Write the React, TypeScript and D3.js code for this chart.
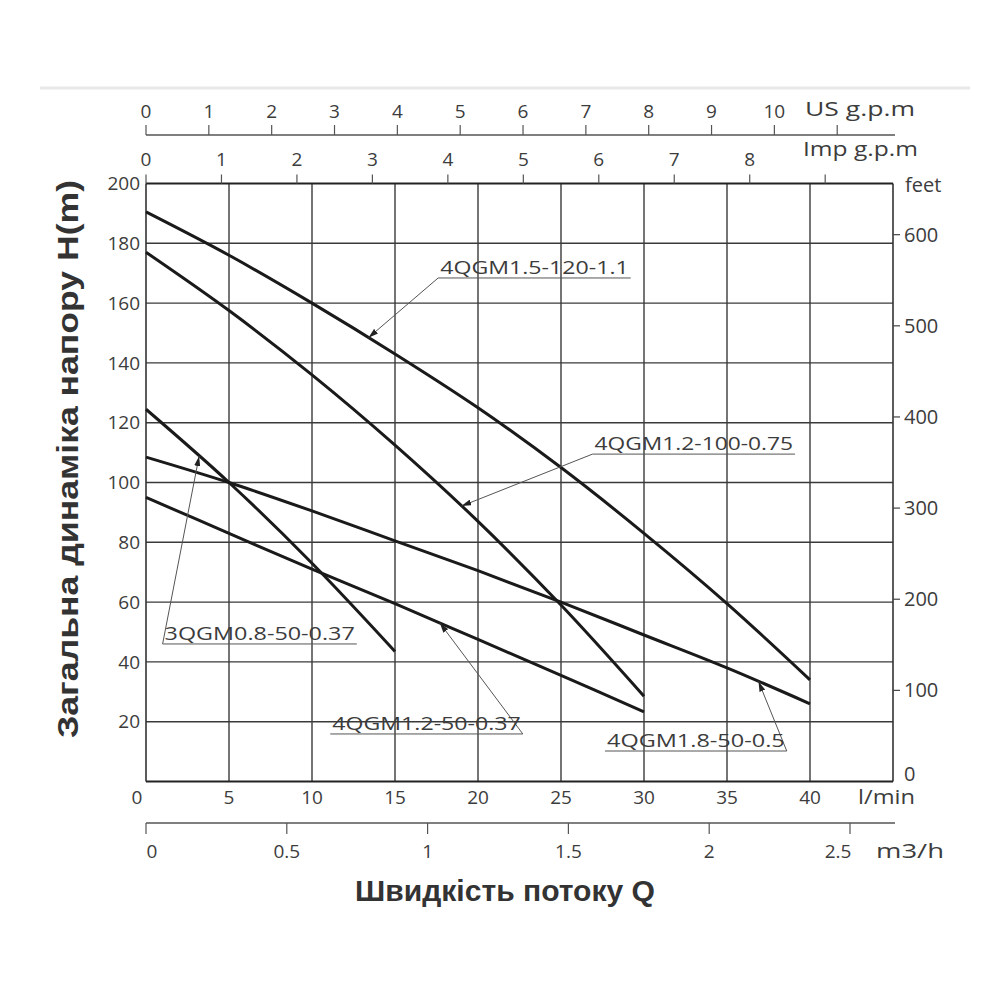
import React from 'react';
import * as d3 from 'd3';

// flow points (l/min) and heads (m)
const q40 = [0, 5, 10, 15, 20, 25, 30, 35, 40];
const q30 = [0, 5, 10, 15, 20, 25, 30];
const q15 = [0, 5, 10, 15];

const head_4QGM15_120 = [190.5, 176, 160, 143, 125, 105, 83, 59.5, 34];
const head_4QGM18_50 = [108.5, 100, 90.5, 80.5, 70.5, 60, 49, 38, 26];
const head_4QGM12_100 = [177, 157.5, 136, 112.5, 87, 59, 28.5];
const head_4QGM12_50 = [95, 83, 71, 59.5, 47.5, 35.5, 23.3];
const head_3QGM08_50 = [124.5, 100, 73, 43.5];

const series = [
  { name: '4QGM1.5-120-1.1', q: q40, h: head_4QGM15_120 },
  { name: '4QGM1.8-50-0.5', q: q40, h: head_4QGM18_50 },
  { name: '4QGM1.2-100-0.75', q: q30, h: head_4QGM12_100 },
  { name: '4QGM1.2-50-0.37', q: q30, h: head_4QGM12_50 },
  { name: '3QGM0.8-50-0.37', q: q15, h: head_3QGM08_50 },
];

// label callouts: underline span (l/min), underline height (m), arrow target flow
const callouts = [
  { name: '4QGM1.5-120-1.1', q0: 17.6, q1: 29.2, h: 168.4, at: 13.4, from: 'start' },
  { name: '4QGM1.2-100-0.75', q0: 26.9, q1: 39.1, h: 109.5, at: 19.0, from: 'start' },
  { name: '3QGM0.8-50-0.37', q0: 1.0, q1: 12.7, h: 46.0, at: 3.2, from: 'start' },
  { name: '4QGM1.2-50-0.37', q0: 11.1, q1: 22.7, h: 15.9, at: 17.7, from: 'end' },
  { name: '4QGM1.8-50-0.5', q0: 27.65, q1: 38.6, h: 10.2, at: 36.9, from: 'end' },
];

const lminTicks = [0, 5, 10, 15, 20, 25, 30, 35, 40];
const headTicks = [20, 40, 60, 80, 100, 120, 140, 160, 180, 200];
const feetTicks = [0, 100, 200, 300, 400, 500, 600];
const usTicks = [0, 1, 2, 3, 4, 5, 6, 7, 8, 9, 10, 11];
const impTicks = [0, 1, 2, 3, 4, 5, 6, 7, 8, 9];
const m3hTicks = [0, 0.5, 1, 1.5, 2, 2.5];

const FONT = '"Open Sans", "DejaVu Sans", sans-serif';
const TITLE_FONT = '"Liberation Sans", Arial, sans-serif';
const TXT = '#3c3c3c';

export default function App() {
  const left = 146, right = 893, top = 183.5, bottom = 781.5;

  const x = d3.scaleLinear().domain([0, 45]).range([left, right]);
  const y = d3.scaleLinear().domain([0, 200]).range([bottom, top]);
  const yFeet = d3.scaleLinear().domain([0, 200 * 3.2808]).range([bottom, top]);
  const xUS = d3.scaleLinear().domain([0, 45 / 3.7854]).range([left, right]);
  const xImp = d3.scaleLinear().domain([0, 45 / 4.5461]).range([left, right]);
  const xM3h = d3.scaleLinear().domain([0, 2.5]).range([left, 850]);

  const line = d3.line<[number, number]>()
    .x(d => x(d[0]))
    .y(d => y(d[1]))
    .curve(d3.curveCatmullRom.alpha(0.5));

  const usY = 135, m3hY = 823;

  return (
    <svg width={1000} height={1000} style={{ position: 'absolute', left: 0, top: 0, background: '#fff' }}>
      <defs>
        <marker id="arr" viewBox="0 0 10 6" refX="10" refY="3" markerWidth="10" markerHeight="6" markerUnits="userSpaceOnUse" orient="auto">
          <path d="M0,0 L10,3 L0,6 Z" fill="#222" />
        </marker>
      </defs>

      <line x1={40} x2={970} y1={88} y2={88} stroke="#e8e8e8" strokeWidth={3} />

      {/* grid */}
      {lminTicks.filter(t => t > 0).map(t => (
        <line key={'vx' + t} x1={x(t)} x2={x(t)} y1={top} y2={bottom} stroke="#3a3a3a" strokeWidth={1.4} />
      ))}
      {headTicks.filter(t => t < 200).map(t => (
        <line key={'hy' + t} x1={left} x2={right} y1={y(t)} y2={y(t)} stroke="#3a3a3a" strokeWidth={1.4} />
      ))}
      <line x1={left} x2={left} y1={top} y2={bottom} stroke="#333" strokeWidth={1.6} />
      <line x1={right} x2={right} y1={top} y2={bottom} stroke="#333" strokeWidth={1.6} />
      <line x1={left} x2={right} y1={top} y2={top} stroke="#222" strokeWidth={2.2} />
      <line x1={left} x2={right} y1={bottom} y2={bottom} stroke="#222" strokeWidth={2.2} />

      {/* curves */}
      {series.map(s => (
        <path key={s.name} d={line(s.q.map((q, i) => [q, s.h[i]] as [number, number])) || ''}
          fill="none" stroke="#1a1a1a" strokeWidth={3} strokeLinecap="butt" />
      ))}

      {/* callouts */}
      {callouts.map(c => {
        const s = series.find(v => v.name === c.name)!;
        const interp = d3.scaleLinear().domain(s.q).range(s.h);
        const sx = c.from === 'start' ? x(c.q0) : x(c.q1);
        const sy = y(c.h);
        return (
          <g key={'c' + c.name}>
            <line x1={x(c.q0)} x2={x(c.q1)} y1={sy} y2={sy} stroke="#555" strokeWidth={1} />
            <line x1={sx} y1={sy} x2={x(c.at)} y2={y(interp(c.at))} stroke="#555" strokeWidth={1} markerEnd="url(#arr)" />
            <text x={x(c.q0) + 2} y={sy - 4} fontFamily={FONT} fontSize={19} fill={TXT}
              textLength={x(c.q1) - x(c.q0) - 4} lengthAdjust="spacingAndGlyphs">{c.name}</text>
          </g>
        );
      })}

      {/* left axis labels */}
      {headTicks.map(t => (
        <text key={'ly' + t} x={140} y={y(t)} dy="0.35em" textAnchor="end" fontFamily={FONT} fontSize={19} fill={TXT}>{t}</text>
      ))}

      {/* right feet axis */}
      {feetTicks.map(t => (
        <g key={'ft' + t}>
          {t > 0 && <line x1={right} x2={right + 7} y1={yFeet(t)} y2={yFeet(t)} stroke="#444" strokeWidth={1.2} />}
          <text x={right + 11} y={t === 0 ? yFeet(t) - 8 : yFeet(t)} dy="0.35em" fontFamily={FONT} fontSize={20} fill={TXT}>{t}</text>
        </g>
      ))}
      <text x={right + 12} y={top + 1} dy="0.35em" fontFamily={FONT} fontSize={20} fill={TXT}>feet</text>

      {/* bottom l/min labels */}
      {lminTicks.map(t => (
        <text key={'lx' + t} x={t === 0 ? x(t) - 9 : x(t)} y={797} dy="0.35em" textAnchor="middle" fontFamily={FONT} fontSize={19} fill={TXT}>{t}</text>
      ))}
      <text x={858} y={797} dy="0.35em" fontFamily={FONT} fontSize={20} fill={TXT} textLength={57} lengthAdjust="spacingAndGlyphs">l/min</text>

      {/* m3/h axis */}
      <line x1={left} x2={right + 2} y1={m3hY} y2={m3hY} stroke="#555" strokeWidth={1.4} />
      {m3hTicks.map(t => (
        <g key={'m' + t}>
          <line x1={xM3h(t)} x2={xM3h(t)} y1={m3hY} y2={m3hY + 11} stroke="#555" strokeWidth={1.2} />
          <text x={t === 0 ? xM3h(t) + 6 : xM3h(t) - (t === 2.5 ? 12 : 0)} y={851} dy="0.35em" textAnchor="middle" fontFamily={FONT} fontSize={19} fill={TXT}>{t}</text>
        </g>
      ))}
      <text x={876} y={851} dy="0.35em" fontFamily={FONT} fontSize={20} fill={TXT} textLength={68} lengthAdjust="spacingAndGlyphs">m3/h</text>

      {/* US gpm axis */}
      <line x1={left} x2={right + 2} y1={usY} y2={usY} stroke="#555" strokeWidth={1.4} />
      {usTicks.map(t => (
        <g key={'us' + t}>
          <line x1={xUS(t)} x2={xUS(t)} y1={usY} y2={usY - 10} stroke="#555" strokeWidth={1.2} />
          {t <= 10 && <text x={xUS(t)} y={111} dy="0.35em" textAnchor="middle" fontFamily={FONT} fontSize={19} fill={TXT}>{t}</text>}
        </g>
      ))}
      <text x={805} y={109} dy="0.35em" fontFamily={FONT} fontSize={20} fill={TXT} textLength={110} lengthAdjust="spacingAndGlyphs">US g.p.m</text>

      {/* Imp gpm axis (on plot top) */}
      {impTicks.map(t => (
        <g key={'imp' + t}>
          <line x1={xImp(t)} x2={xImp(t)} y1={top} y2={top - 9} stroke="#555" strokeWidth={1.2} />
          {t <= 8 && <text x={xImp(t)} y={159} dy="0.35em" textAnchor="middle" fontFamily={FONT} fontSize={19} fill={TXT}>{t}</text>}
        </g>
      ))}
      <text x={803} y={149} dy="0.35em" fontFamily={FONT} fontSize={20} fill={TXT} textLength={115} lengthAdjust="spacingAndGlyphs">Imp g.p.m</text>

      {/* titles */}
      <text x={505} y={891} dy="0.35em" textAnchor="middle" fontFamily={TITLE_FONT} fontWeight="bold" fontSize={29} fill="#333"
        textLength={300} lengthAdjust="spacingAndGlyphs">Швидкість потоку Q</text>
      <text transform={`translate(68, 459) rotate(-90)`} dy="0.35em" textAnchor="middle" fontFamily={TITLE_FONT} fontWeight="bold" fontSize={29} fill="#333"
        textLength={558} lengthAdjust="spacingAndGlyphs">Загальна динаміка напору H(m)</text>
    </svg>
  );
}
